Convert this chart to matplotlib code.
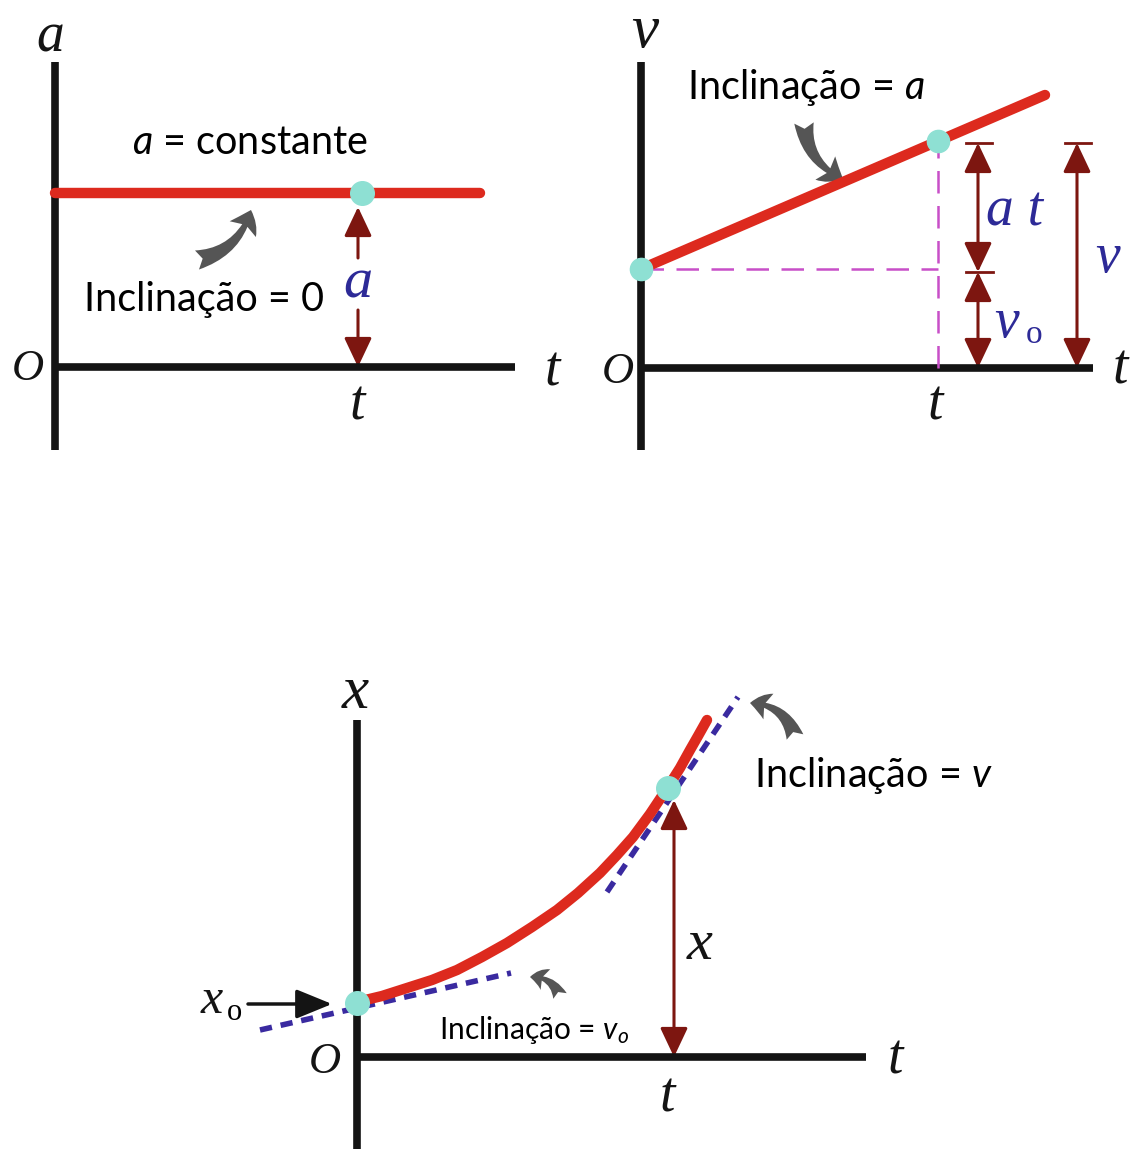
import matplotlib
matplotlib.use("Agg")
import matplotlib.pyplot as plt
from matplotlib.patches import FancyArrowPatch

plt.rcParams['mathtext.fontset'] = 'custom'
plt.rcParams['mathtext.rm'] = 'Lato'
plt.rcParams['mathtext.it'] = 'Lato:italic'

W, H = 1131, 1149

# ---- grafico a x t
a_const = 1.74
t_a_line = [0.0, 4.25]
t_a_mark = 3.07

# ---- grafico v x t
t_v_line = [0.0, 4.04]
v_line = [0.99, 2.73]
t_v_mark = 2.97
v_mark = 2.27
v_top = 2.25          # topo das setas at / v
v0_level = 0.96       # nivel de v0 nas setas

# ---- grafico x x t
t_x_curve = [0.00, 0.25, 0.50, 0.75, 1.00, 1.25, 1.50, 1.75, 2.00, 2.21,
             2.43, 2.60, 2.76, 2.93, 3.11, 3.23, 3.33, 3.41, 3.50]
x_curve = [0.55, 0.61, 0.69, 0.77, 0.87, 1.00, 1.14, 1.30, 1.47, 1.64,
           1.84, 2.02, 2.20, 2.43, 2.70, 2.89, 3.07, 3.21, 3.37]
x0_val = 0.54
t_x_mark = 3.11
x_mark = 2.69
tan0_t = [-0.97, 1.54]
tan0_x = [0.27, 0.84]
tan1_t = [2.50, 3.81]
tan1_x = [1.65, 3.60]

RED = '#dd2a1e'
TEAL = '#8ee0d3'
DRED = '#7d1610'
BLUE = '#2d2a97'
MAG = '#c84fc8'
DBLUE = '#3a2aa0'
GRAY = '#555555'
BLK = '#141414'
SERIF = 'Liberation Serif'
SANS = 'Lato'

fig = plt.figure(figsize=(W / 100, H / 100), dpi=100)


def panel(ox, oy, x0, x1, y0, y1):
    # origem do grafico em (ox, oy) pixels, 100 px por unidade
    ax = fig.add_axes([(ox + x0 * 100) / W, (H - oy + y0 * 100) / H,
                       (x1 - x0) * 100 / W, (y1 - y0) * 100 / H])
    ax.set_xlim(x0, x1)
    ax.set_ylim(y0, y1)
    ax.axis('off')
    return ax


def axes_lines(ax, ytop, ybot, xright):
    ax.plot([0, 0], [ybot, ytop], color=BLK, lw=5.5, solid_capstyle='butt', clip_on=False)
    ax.plot([0, xright], [0, 0], color=BLK, lw=5.5, solid_capstyle='butt', clip_on=False)


def arrow(ax, p0, p1, style='-|>'):
    ax.add_patch(FancyArrowPatch(p0, p1, arrowstyle=f'{style},head_length=18,head_width=8.5',
                                 mutation_scale=1, color=DRED, lw=2.2,
                                 shrinkA=0, shrinkB=0, clip_on=False))


def curved(ax, p0, p1, rad, scale=1.0):
    ax.add_patch(FancyArrowPatch(p0, p1, connectionstyle=f'arc3,rad={rad}',
                                 arrowstyle=f'fancy,head_length={15*scale},head_width={22*scale},tail_width={14*scale}',
                                 mutation_scale=1, color=GRAY, lw=0, shrinkA=0, shrinkB=0,
                                 clip_on=False))


def lab(ax, x, y, s, size=40, color=BLK):
    ax.text(x, y, s, fontfamily=SERIF, style='italic', fontsize=size, color=color,
            ha='center', va='center')


# ================= painel a x t
ax1 = panel(55, 367, -0.55, 5.25, -1.03, 3.67)
axes_lines(ax1, 3.05, -0.83, 4.6)
ax1.plot(t_a_line, [a_const, a_const], color=RED, lw=7.5, solid_capstyle='round')
arrow(ax1, (t_a_mark - 0.04, 1.09), (t_a_mark - 0.04, 1.60))
arrow(ax1, (t_a_mark - 0.04, 0.57), (t_a_mark - 0.04, 0.0))
ax1.plot([t_a_mark], [a_const], 'o', color=TEAL, ms=17, zorder=5)
lab(ax1, -0.05, 3.29, 'a')
lab(ax1, 4.97, -0.05, 't')
lab(ax1, -0.27, -0.02, 'O', 32)
lab(ax1, 3.02, -0.38, 't')
lab(ax1, 3.03, 0.84, 'a', 42, BLUE)
ax1.text(1.95, 2.24, r'$a$ = constante', fontfamily=SANS, fontsize=28.5, ha='center', va='center')
ax1.text(1.49, 0.67, 'Inclinação = 0', fontfamily=SANS, fontsize=28.5, ha='center', va='center')
curved(ax1, (1.42, 1.07), (1.96, 1.57), 0.3)

# ================= painel v x t
ax2 = panel(641, 368, -0.51, 4.90, -1.02, 3.68)
axes_lines(ax2, 3.06, -0.82, 4.52)
ax2.plot([0, t_v_mark], [v_line[0], v_line[0]], color=MAG, lw=1.8, dashes=(9, 5))
ax2.plot([t_v_mark, t_v_mark], [0, v_mark], color=MAG, lw=1.8, dashes=(9, 5))
ax2.plot(t_v_line, v_line, color=RED, lw=7.5, solid_capstyle='round')
ax2.plot([0, t_v_mark], [v_line[0], v_mark], 'o', color=TEAL, ms=16, zorder=5)
for xa in [3.37, 4.36]:
    ax2.plot([xa - 0.12, xa + 0.14], [v_top, v_top], color=DRED, lw=2)
ax2.plot([3.37 - 0.12, 3.37 + 0.15], [v0_level, v0_level], color=DRED, lw=2)
arrow(ax2, (3.37, v0_level), (3.37, v_top), '<|-|>')
arrow(ax2, (3.37, 0), (3.37, v0_level), '<|-|>')
arrow(ax2, (4.36, 0), (4.36, v_top), '<|-|>')
lab(ax2, 0.04, 3.36, 'v', 44)
lab(ax2, 4.79, -0.02, 't')
lab(ax2, -0.23, -0.04, 'O', 32)
lab(ax2, 2.94, -0.37, 't')
lab(ax2, 3.74, 1.56, 'a t', 40, BLUE)
lab(ax2, 3.66, 0.45, 'v', 40, BLUE)
ax2.text(3.93, 0.33, 'o', fontfamily=SERIF, fontsize=24, color=BLUE, ha='center', va='center')
lab(ax2, 4.67, 1.10, 'v', 40, BLUE)
ax2.text(1.65, 2.80, r'Inclinação = $a$', fontfamily=SANS, fontsize=28.5, ha='center', va='center')
curved(ax2, (1.63, 2.45), (2.02, 1.89), 0.3)

# ================= painel x x t
ax3 = panel(357, 1057, -2.07, 6.43, -0.92, 4.07)
axes_lines(ax3, 3.37, -0.92, 5.09)
ax3.plot(tan0_t, tan0_x, color=DBLUE, lw=4, dashes=(2.2, 1.6))
ax3.plot(tan1_t, tan1_x, color=DBLUE, lw=4, dashes=(2.2, 1.6))
ax3.plot(t_x_curve, x_curve, color=RED, lw=7.5, solid_capstyle='round',
         solid_joinstyle='round')
arrow(ax3, (3.17, 0), (3.17, 2.57), '<|-|>')
ax3.plot([0, t_x_mark], [x0_val, x_mark], 'o', color=TEAL, ms=17, zorder=5)
ax3.add_patch(FancyArrowPatch((-1.09, 0.53), (-0.25, 0.53),
                              arrowstyle='-|>,head_length=22,head_width=9',
                              mutation_scale=1, color=BLK, lw=2.5,
                              shrinkA=0, shrinkB=0, clip_on=False))
lab(ax3, -0.02, 3.64, 'x', 44)
lab(ax3, 5.38, -0.03, 't')
lab(ax3, -0.32, -0.05, 'O', 32)
lab(ax3, 3.10, -0.41, 't')
lab(ax3, 3.43, 1.12, 'x', 42)
lab(ax3, -1.45, 0.56, 'x', 36)
ax3.text(-1.22, 0.45, 'o', fontfamily=SERIF, fontsize=22, ha='center', va='center')
ax3.text(1.77, 0.27, r'Inclinação = $v_o$', fontfamily=SANS, fontsize=21.5, ha='center', va='center')
ax3.text(5.16, 2.82, r'Inclinação = $v$', fontfamily=SANS, fontsize=28.5, ha='center', va='center')
curved(ax3, (2.03, 0.61), (1.73, 0.80), 0.35, 0.75)
curved(ax3, (4.38, 3.20), (3.93, 3.54), 0.35, 0.9)

fig.savefig('out.png', dpi=100)
